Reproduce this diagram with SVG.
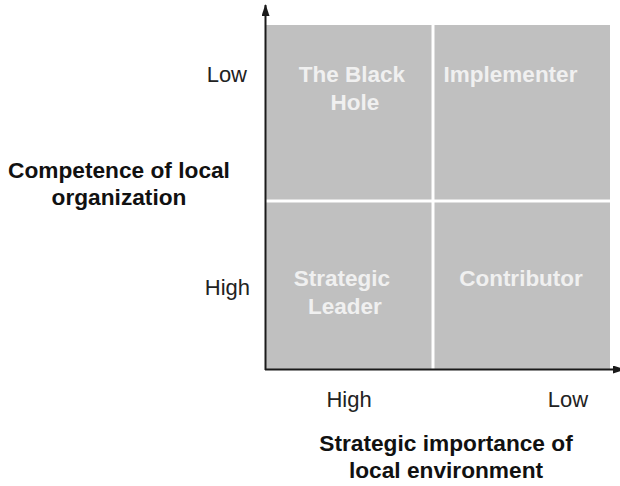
<svg xmlns="http://www.w3.org/2000/svg" width="620" height="486" viewBox="0 0 620 486">
<style>
.cell{fill:#c0c0c0}
.ct{font-family:"Liberation Sans",Arial,sans-serif;font-weight:bold;font-size:22.5px;fill:#f0f0f0;text-anchor:middle}
.lb{font-family:"Liberation Sans",Arial,sans-serif;font-size:22px;fill:#222}
.tt{font-family:"Liberation Sans",Arial,sans-serif;font-weight:bold;font-size:22.7px;fill:#111;text-anchor:middle}
.ax{stroke:#1a1a1a;stroke-width:2;fill:none}
</style>
<defs>
<marker id="arr" viewBox="0 0 12 8" refX="11" refY="4" markerWidth="12" markerHeight="8" markerUnits="userSpaceOnUse" orient="auto">
<path d="M0,0 L12,4 L0,8 Z" fill="#1a1a1a"/>
</marker>
</defs>
<rect width="620" height="486" fill="#ffffff"/>
<g id="black-hole">
<rect class="cell" x="266" y="25" width="165.5" height="174.5"/>
<text class="ct" x="352" y="82">The Black</text>
<text class="ct" x="355" y="110">Hole</text>
</g>
<g id="implementer">
<rect class="cell" x="434.5" y="25" width="175.5" height="174.5"/>
<text class="ct" x="510.5" y="82">Implementer</text>
</g>
<g id="strategic-leader">
<rect class="cell" x="266" y="202.5" width="165.5" height="166.5"/>
<text class="ct" x="342" y="286">Strategic</text>
<text class="ct" x="345" y="314">Leader</text>
</g>
<g id="contributor">
<rect class="cell" x="434.5" y="202.5" width="175.5" height="166.5"/>
<text class="ct" x="521" y="286">Contributor</text>
</g>
<g id="connectors">
<line class="ax" x1="265.5" y1="370" x2="265.5" y2="5" marker-end="url(#arr)"/>
<line class="ax" x1="265" y1="369.5" x2="624" y2="369.5" marker-end="url(#arr)"/>
</g>
<g id="labels">
<text class="lb" x="247" y="82" text-anchor="end">Low</text>
<text class="lb" x="250" y="295" text-anchor="end">High</text>
<text class="lb" x="349" y="407" text-anchor="middle">High</text>
<text class="lb" x="568" y="407" text-anchor="middle">Low</text>
<text class="tt" x="119" y="178">Competence of local</text>
<text class="tt" x="119" y="205">organization</text>
<text class="tt" x="446" y="451">Strategic importance of</text>
<text class="tt" x="446" y="478">local environment</text>
</g>
</svg>
